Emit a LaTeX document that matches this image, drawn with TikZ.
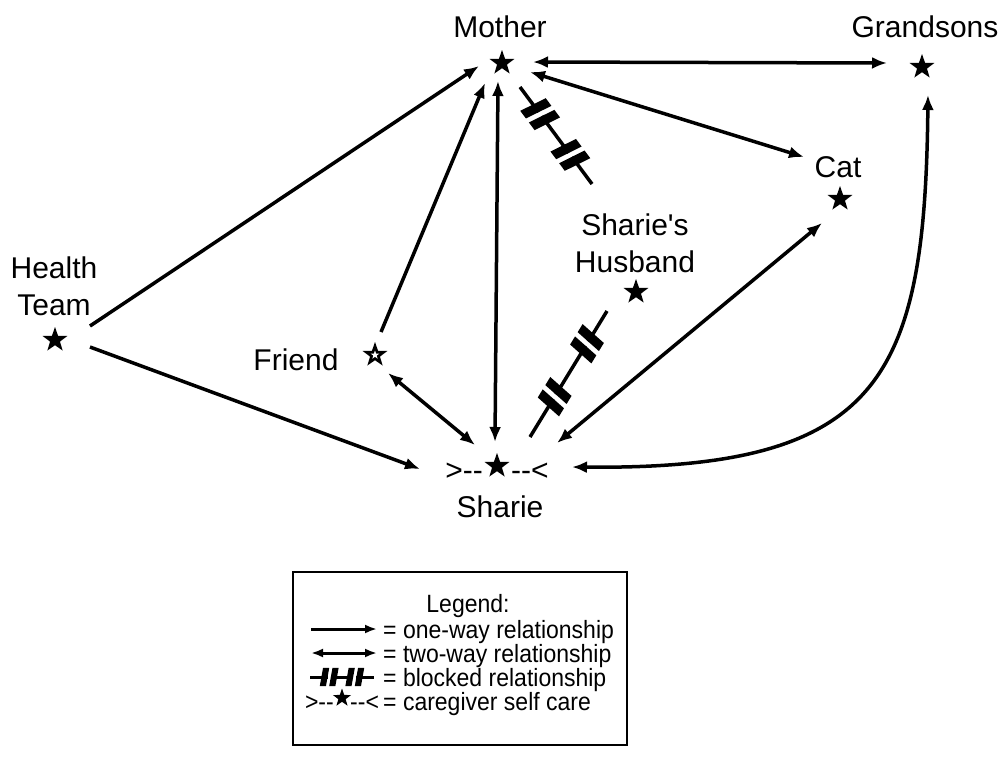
\documentclass[tikz,border=0pt]{standalone}
\usepackage{fontspec}
\setmainfont{Liberation Sans}[Ligatures=TeXOff]
\usetikzlibrary{arrows.meta,shapes.geometric,decorations.markings,calc}

% a pair of bars cutting a relationship line
\newcommand{\blockbars}[1][1]{%
  \begin{scope}[scale=#1]
    \fill[white] (-2.5,-13) rectangle (2.5,13);
    \fill[xslant=0.18] (-12,-14) rectangle (-2.5,14);
    \fill[xslant=0.18] (2.5,-14) rectangle (12,14);
  \end{scope}}
% narrow legend lettering
\newcommand{\legtext}[1]{\scalebox{0.92}[1]{#1}}

\begin{document}
\begin{tikzpicture}[x=1pt,y=-1pt,
  person/.style={star,star points=5,star point ratio=2.5,fill=black,
    inner sep=0pt,minimum size=26pt},
  core/.style={star,star points=5,star point ratio=2.5,fill=white,
    inner sep=0pt,minimum size=9pt},
  lbl/.style={anchor=base,inner sep=0pt,font=\fontsize{30}{37}\selectfont,align=center},
  leg/.style={inner sep=0pt,font=\fontsize{25}{26}\selectfont},
  rel/.style={line width=3.5pt},
  bigtip/.tip={Latex[length=15pt,width=12pt]},
  smalltip/.tip={Latex[length=12pt,width=9pt]},
  one/.style={rel,-bigtip},
  two/.style={rel,bigtip-bigtip},
  blocked/.style 2 args={rel,postaction={decorate},
    decoration={markings,mark=at position #1 with {\blockbars},
                        mark=at position #2 with {\blockbars}}},
]
\useasboundingbox (0,0) rectangle (1001,756);

% people
\node[person] (mo) at (502,63) {};
\node[person] (gs) at (922,67) {};
\node[person] (cat) at (840,199) {};
\node[person] (hb) at (636,292) {};
\node[person] (ht) at (55,340) {};
\node[person] (fr) at (375,355) {};
\node[core] (frc) at (fr) {};
\node[person] (sh) at (497,466) {};

% names
\node[lbl] (mol) at (500,37) {Mother};
\node[lbl] (gsl) at (925,37) {Grandsons};
\node[lbl] (catl) at (838,177) {Cat};
\node[lbl] (hbl) at (635,272) {Sharie's\\Husband};
\node[lbl] (htl) at (54,315) {Health\\Team};
\node[lbl] (frl) at (296,370) {Friend};
\node[lbl] (shl) at (500,517) {Sharie};

% self care marks round Sharie
\node[lbl,anchor=base east] (shL) at (483,480) {>-{}-};
\node[lbl,anchor=base west] (shR) at (511,480) {-{}-<};

% relationships
\draw[one] ([shift={(35,-14)}]ht.center) -- ([shift={(-23,3)}]mo.center);
\draw[one] ([shift={(35,7)}]ht.center) -- ([shift={(-77,3)}]sh.center);
\draw[one] ([shift={(6,-23)}]fr.center) -- ([shift={(-17,20)}]mo.center);
\draw[two] ([shift={(13,18)}]fr.center) -- ([shift={(-22,-21)}]sh.center);
\draw[two] ([shift={(-4,18)}]mo.center) -- ([shift={(-2,-24)}]sh.center);
\draw[two] ([shift={(31,-1)}]mo.center) -- ([shift={(-35,-4)}]gs.center);
\draw[two] ([shift={(28,9)}]mo.center) -- ([shift={(-36,-42)}]cat.center);
\draw[two] ([shift={(60,-23)}]sh.center) -- ([shift={(-18,24)}]cat.center);
\draw[two] ([shift={(6,28)}]gs.center)
   .. controls (925,380) and (880,470) .. ([shift={(75,1)}]sh.center);
\draw[blocked={0.28}{0.7}] ([shift={(18,24)}]mo.center) -- ([shift={(-44,-108)}]hb.center);
\draw[blocked={0.32}{0.74}] ([shift={(33,-29)}]sh.center) -- ([shift={(-29,19)}]hb.center);

% legend
\node[draw,line width=1.2pt,minimum width=334pt,minimum height=173pt,inner sep=0pt]
  (legend) at (460,658.5) {};
\node[leg,anchor=base] (legt) at (468,612) {\legtext{Legend:}};
\node[leg,anchor=base west] (l1) at (383,638) {\legtext{= one-way relationship}};
\node[leg,anchor=base west] (l2) at (383,662) {\legtext{= two-way relationship}};
\node[leg,anchor=base west] (l3) at (383,686) {\legtext{= blocked relationship}};
\node[leg,anchor=base west] (l4) at (383,710) {\legtext{= caregiver self care}};

\coordinate (a1) at (311,629); \coordinate (b1) at (377,629);
\coordinate (a2) at (311,653); \coordinate (b2) at (377,653);
\coordinate (a3) at (310,677); \coordinate (b3) at (374,677);
\draw[line width=3pt,-smalltip] (a1) -- (b1);
\draw[line width=3pt,smalltip-smalltip] (a2) -- (b2);
\draw[line width=3pt,postaction={decorate},
  decoration={markings,mark=at position 0.3 with {\blockbars[0.65]},
                       mark=at position 0.7 with {\blockbars[0.65]}}] (a3) -- (b3);
\node[person,minimum size=19pt] (ls) at (342,698) {};
\node[leg,anchor=base east] (lsL) at (334,710) {\legtext{>-{}-}};
\node[leg,anchor=base west] (lsR) at (350,710) {\legtext{-{}-<}};
\end{tikzpicture}
\end{document}
